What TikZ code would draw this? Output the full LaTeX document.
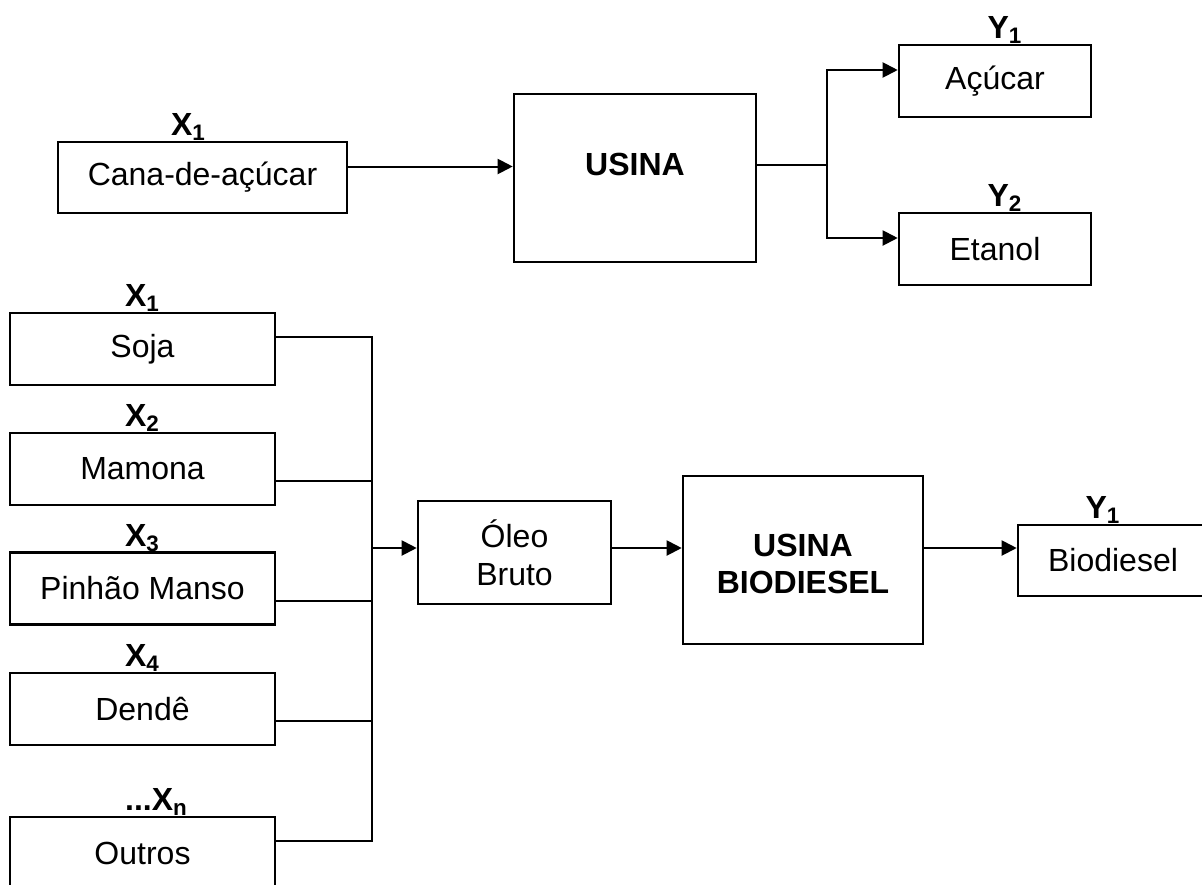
\documentclass[tikz,border=0pt]{standalone}
\usepackage{fontspec}
\setmainfont{Liberation Sans}
\usetikzlibrary{arrows.meta}

\begin{document}
\begin{tikzpicture}[x=0.5pt, y=-0.5pt, line width=1pt,
    font=\fontsize{16}{19}\selectfont,
    box/.style={draw, line width=1.3pt, inner sep=0pt, align=center},
    feed/.style={box, minimum width=132.5pt, minimum height=36pt},
    lab/.style={anchor=base, inner sep=0pt, font=\fontsize{16}{19}\selectfont\bfseries},
    plant/.style={inner sep=0pt, align=center, font=\fontsize{16}{18.75}\selectfont\bfseries},
    flow/.style={-{Triangle[length=7.5pt,width=7.5pt]}}]
      \useasboundingbox (0,0) rectangle (1202,884);
      % cana
      \node[box, minimum width=144.5pt, minimum height=35.5pt] (cana) at (202.5,177.5) {Cana-de-açúcar};
      \node[box, minimum width=121pt, minimum height=84pt] (usina) at (635,178) {};
      \node[plant] (usinatxt) at ([yshift=7pt]usina.center) {USINA};
      \node[box, minimum width=96pt, minimum height=36pt] (acucar) at (995,81) {Açúcar};
      \node[box, minimum width=96pt, minimum height=36pt] (etanol) at (995,249) {Etanol};
      \node[lab] (xcana) at ([xshift=-7pt,yshift=2.5pt]cana.north) {X\textsubscript{1}};
      \node[lab] (yacucar) at ([xshift=5pt,yshift=2.5pt]acucar.north) {Y\textsubscript{1}};
      \node[lab] (yetanol) at ([xshift=5pt,yshift=2.5pt]etanol.north) {Y\textsubscript{2}};
      \coordinate (cin) at ([yshift=5.5pt]cana.east);
      \coordinate (split) at (827,165);
      \draw[flow] (cin) -- (cin -| usina.west);
      \draw ([yshift=6.5pt]usina.east) -- (split);
      \draw[flow] (split) |- ([yshift=5.5pt]acucar.west);
      \draw[flow] (split) |- ([yshift=5.5pt]etanol.west);
      % biodiesel
      \node[feed] (soja) at (142.5,349) {Soja};
      \node[feed] (mamona) at (142.5,469) {Mamona};
      \node[feed] (pinhao) at (142.5,588.5) {Pinhão Manso};
      \node[feed] (dende) at (142.5,709) {Dendê};
      \node[feed] (outros) at (142.5,853) {Outros};
      \node[lab] (xsoja) at ([yshift=2.5pt]soja.north) {X\textsubscript{1}};
      \node[lab] (xmamona) at ([yshift=2.5pt]mamona.north) {X\textsubscript{2}};
      \node[lab] (xpinhao) at ([yshift=2.5pt]pinhao.north) {X\textsubscript{3}};
      \node[lab] (xdende) at ([yshift=2.5pt]dende.north) {X\textsubscript{4}};
      \node[lab] (xoutros) at ([xshift=7pt,yshift=2.5pt]outros.north) {...X\textsubscript{n}};
      \node[box, minimum width=96.5pt, minimum height=51.5pt] (oleo) at (514.5,552.5) {Óleo\\Bruto};
      \node[box, minimum width=120pt, minimum height=84pt] (usinab) at (803,560) {};
      \node[plant] (usinabtxt) at ([yshift=-2pt]usinab.center) {USINA\\BIODIESEL};
      \node[box, minimum width=95pt, minimum height=35.5pt] (biodiesel) at (1113,560.5) {Biodiesel};
      \node[lab] (ybio) at ([xshift=-5pt,yshift=2.5pt]biodiesel.north) {Y\textsubscript{1}};
      \coordinate (bus) at (372,548);
      \draw ([yshift=6pt]soja.east) -| (bus);
      \draw ([yshift=-6pt]mamona.east) -| (bus);
      \draw ([yshift=-6.25pt]pinhao.east) -| (bus);
      \draw ([yshift=-6pt]dende.east) -| (bus);
      \draw ([yshift=6pt]outros.east) -| (bus);
      \draw[flow] (bus) -- (bus -| oleo.west);
      \draw[flow] (oleo.east |- bus) -- (bus -| usinab.west);
      \draw[flow] (usinab.east |- bus) -- (bus -| biodiesel.west);
\end{tikzpicture}
\end{document}
